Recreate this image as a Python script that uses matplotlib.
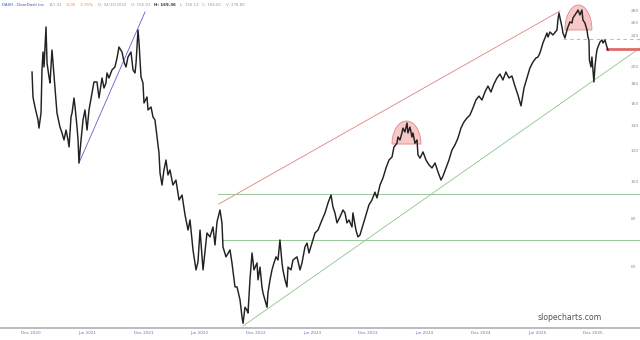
import numpy as np
import matplotlib
matplotlib.use('Agg')
import matplotlib.pyplot as plt

# price path, x = months since Dec 2020, y = price (log axis)
months = [0.11, 0.21, 0.43, 0.75, 0.85, 1.07, 1.17, 1.28, 1.39, 1.60, 1.71, 1.92, 2.03, 2.24, 2.35,
          2.56, 2.77, 3.09, 3.31, 3.52, 3.74, 3.95, 4.06, 4.27, 4.38, 4.59, 4.70, 4.91, 5.02, 5.12,
          5.34, 5.55, 5.76, 5.98, 6.19, 6.51, 6.72, 7.04, 7.26, 7.58, 7.79, 8.00, 8.11, 8.32, 8.64,
          8.96, 9.18, 9.39, 9.71, 9.93, 10.14, 10.35, 10.67, 10.89, 11.10, 11.21, 11.42, 11.53, 11.74,
          11.95, 12.06, 12.38, 12.49, 12.81, 13.02, 13.23, 13.45, 13.66, 13.77,
          13.98, 14.19, 14.41, 14.62, 14.83, 15.15, 15.47, 15.80, 16.12, 16.44, 16.76, 16.97, 17.29,
          17.61, 17.82, 18.04,
          18.36, 18.78, 19.10, 19.42, 19.64, 19.85, 20.17, 20.38, 20.49, 20.81, 21.24, 21.45, 21.77,
          21.99, 22.31, 22.52, 22.63, 22.84, 23.05, 23.16, 23.37, 23.59, 23.80, 24.12, 24.23, 24.44,
          24.65, 24.76, 24.97, 25.19, 25.29, 25.51, 25.72, 25.93, 26.15, 26.36, 26.57, 26.79, 26.89,
          27.11, 27.32, 27.43, 27.75, 27.96, 28.39, 28.71, 28.92, 29.24, 29.46, 29.67, 29.99, 30.31,
          30.63, 31.06, 31.38, 31.70, 32.02, 32.23, 32.44, 32.66, 32.98, 33.30, 33.51, 33.72, 33.94,
          34.26, 34.36, 34.68, 34.90, 35.11,
          35.43, 35.75, 36.07, 36.39, 36.71, 36.93, 37.25, 37.57, 37.89, 38.21, 38.53,
          38.74, 39.06, 39.17, 39.38, 39.59, 39.70, 39.91, 40.13, 40.23, 40.45, 40.66, 40.77, 40.98,
          41.20, 41.30, 41.52,
          41.84, 42.16, 42.48, 42.80, 43.12, 43.44, 43.76, 43.97,
          44.29, 44.61, 44.93, 45.25, 45.57, 45.89, 46.21, 46.53, 46.85, 47.17, 47.49, 47.81, 48.13,
          48.45, 48.77, 49.09, 49.41, 49.73, 50.05, 50.37, 50.69, 51.01, 51.33, 51.65, 51.97, 52.30,
          52.62, 52.94, 53.25, 53.57, 53.89, 54.11,
          54.32, 54.64, 55.07, 55.18, 55.39, 55.71, 56.14, 56.24, 56.35, 56.67, 56.78, 56.99, 57.21,
          57.31, 57.52, 57.74, 57.84, 58.06, 58.27, 58.38, 58.59, 58.80, 58.91, 59.12, 59.34, 59.44,
          59.55, 59.60, 59.77, 59.87, 59.98, 60.03, 60.08, 60.19, 60.30, 60.40, 60.51, 60.73, 60.94,
          61.05, 61.26, 61.47, 61.58]
prices = [193, 166, 156, 144.6, 137.7, 150.9, 195.4, 217.8, 199, 253.2, 203.8, 187.4, 180.7, 220.4, 203.8,
          176.4, 150.9, 138.6, 133.7, 128.2, 136.1, 128.2, 122.9, 147.2, 150.9, 165.1, 156.4, 138.6, 128.2, 111.6,
          128.2, 144.6, 153.6, 136.1, 153.6, 170.1, 181.8, 181.8, 165.1, 186.2, 175.3, 180.7, 191.9, 186.2, 195.4,
          199, 210, 224.4, 217.8, 205, 199, 211.3, 217.8, 195.4, 191.9, 203.8, 248.7, 229.9, 187.4,
          180.7, 160.2, 166.1, 153.6, 156.4, 147.2, 144.6, 130.5, 118.5, 105.1,
          97.7, 107, 113.6, 103.8, 107, 97.7, 100.7, 89.3, 92.0, 81.6, 74.5, 79.2, 66.1,
          58.6, 61.5, 74.5,
          58.6, 73.2, 71.5, 75.9, 68.1, 78.2, 84.1, 77.8, 67.3, 63.4, 66.1, 61.1, 52.9,
          52.9, 48.9, 44.1, 42.5, 46.8, 46.0, 45.2, 55.2, 64.9, 58.6, 61.1, 55.2, 59.6,
          52.9, 51.0, 48.9, 46.8, 51.0, 55.2, 58.6, 61.1, 63.4, 62.2, 70.2, 61.1, 58.6,
          55.2, 52.9, 59.6, 58.6, 62.2, 63.4, 58.6, 61.1, 67.3, 68.9, 64.9, 68.9, 73.2,
          74.5, 79.2, 82.6, 87.7, 92.0, 85.6, 82.6, 77.8, 80.7, 84.1, 82.6, 77.8, 79.2,
          75.9, 82.6, 74.5, 71.5, 72.3,
          76.8, 81.6, 86.7, 89.3, 93.6, 90.4, 97.7, 102, 108.3, 113.6, 115.7,
          122.9, 125.7, 130.5, 128.2, 133.7, 137.7, 134.5, 142.0, 133.7, 138.6, 130.5, 133.7, 125.7,
          128.2, 117.2, 114.9,
          119.3, 113.6, 110.3, 108.3, 111.6, 105.7, 100.7, 103.1,
          108.3, 113.6, 120.7, 124.4, 129.7, 137.7, 142.9, 146.3, 149.0, 155.5, 163.1, 167.0, 163.1,
          171.1, 177.4, 171.1, 179.6, 186.2, 190.7, 184.0, 193.1, 186.2, 188.5, 177.4, 168.1, 157.4,
          175.3, 186.2, 197.8, 205.0, 210, 211.3,
          216.5, 229.9, 244.2, 238.3, 245.7, 241.3, 248.7, 264.1, 275.5, 253.2, 244.2, 237.0, 248.7,
          253.2, 261.0, 259.4, 267.3, 272.3, 277.2, 280.5, 272.3, 280.5, 264.1, 259.4, 248.7, 238.3,
          234.1, 207.5, 199, 211.3, 195.4, 187.4, 181.8, 199, 211.3, 220.4, 224.4, 231.3, 234.1,
          229.9, 234.1, 224.4, 220.4]

x_ticks = [0, 6, 12, 18, 24, 30, 36, 42, 48, 54, 60]
x_labels = ['Dec 2020', 'Jun 2021', 'Dec 2021', 'Jun 2022', 'Dec 2022', 'Jun 2023',
            'Dec 2023', 'Jun 2024', 'Dec 2024', 'Jun 2025', 'Dec 2025']
y_ticks = [60, 80, 100, 120, 140, 160, 180, 200, 240, 260, 280]

# drawn trendlines: (month, price) pairs
blue_line = ([5.12, 12.17], [111.6, 277.2])
red_line = ([20.06, 56.46], [87.2, 278.8])
green_line = ([22.63, 65.0], [41.8, 223.1])
green_levels = [(19.96, 92.6), (20.5, 70.2)]
red_level = (61.47, 221.8)
dash_level = (56.78, 235.5)
# semicircle highlights: (left, right, base price, top price)
arcs = [(38.53, 41.62, 125.1, 143.7), (56.99, 59.87, 248.7, 289.0)]

header = [('DASH - DoorDash Inc', '#3355cc', 'normal'),
          ('151.41', '#999999', 'normal'),
          ('-9.05', '#e08a50', 'normal'),
          ('-5.91%', '#e08a50', 'normal'),
          ('D: 04/15/2022', '#999999', 'normal'),
          ('O: 156.91', '#999999', 'normal'),
          ('H: 169.36', '#333333', 'bold'),
          ('L: 156.13', '#999999', 'normal'),
          ('C: 166.81', '#999999', 'normal'),
          ('V: 278.80', '#999999', 'normal')]

XMIN, XMAX = -3.31, 65.0

fig = plt.figure(figsize=(6.4, 3.4), dpi=100)
ax = fig.add_axes([0, 12 / 340, 1, 328 / 340])
ax.set_yscale('log')
ax.set_xlim(XMIN, XMAX)
ax.set_ylim(41.3, 297.9)

for left, right, base, top in arcs:
    t = np.linspace(0, np.pi, 60)
    cx, hw = (left + right) / 2, (right - left) / 2
    xs = cx + hw * np.cos(t)
    ys = np.exp(np.log(base) + (np.log(top) - np.log(base)) * np.sin(t))
    ax.fill(xs, ys, facecolor='#f8c8c8', edgecolor='#e08888', lw=0.6, zorder=1)

ax.plot(*blue_line, color='#6060d0', lw=0.6, zorder=2)
ax.plot(*red_line, color='#e08080', lw=0.6, zorder=2)
ax.plot(*green_line, color='#8cc48c', lw=0.6, zorder=2)
for start, lvl in green_levels:
    ax.plot([start, XMAX], [lvl, lvl], color='#98c898', lw=0.7, zorder=2)
ax.plot([red_level[0], XMAX], [red_level[1]] * 2, color='#e06a6a', lw=2.0, zorder=2)
ax.plot([dash_level[0], XMAX], [dash_level[1]] * 2, color='#e8a8a8', lw=0.8,
        ls=(0, (3, 3)), zorder=2)

ax.plot(months, prices, color='#222222', lw=1.05, zorder=3)

ax.set_xticks(x_ticks)
ax.set_xticklabels(x_labels)
ax.yaxis.set_ticks_position('right')
ax.set_yticks(y_ticks)
ax.set_yticklabels([str(v) for v in y_ticks])
ax.yaxis.set_minor_locator(matplotlib.ticker.NullLocator())
ax.tick_params(axis='x', length=0, pad=2, labelsize=3, labelcolor='#6a75b0')
ax.tick_params(axis='y', length=0, pad=-7, labelsize=3.2, labelcolor='#909090')
for s in ['top', 'left', 'right']:
    ax.spines[s].set_visible(False)
ax.spines['bottom'].set_color('#b0b0b0')
ax.spines['bottom'].set_linewidth(1.2)

ax.text(570 / 640, 0.018, 'slopecharts.com', transform=ax.transAxes, ha='center', va='bottom',
        fontsize=5.6, color='#555555')

# header line, laid out left to right
renderer = fig.canvas.get_renderer()
px = 2
for txt, col, wt in header:
    t = fig.text(px / 640, 1 - 4.5 / 340, txt, color=col, fontsize=2.9, fontweight=wt,
                 va='center', ha='left')
    px += t.get_window_extent(renderer).width + 4

fig.savefig('out.png', dpi=100)
